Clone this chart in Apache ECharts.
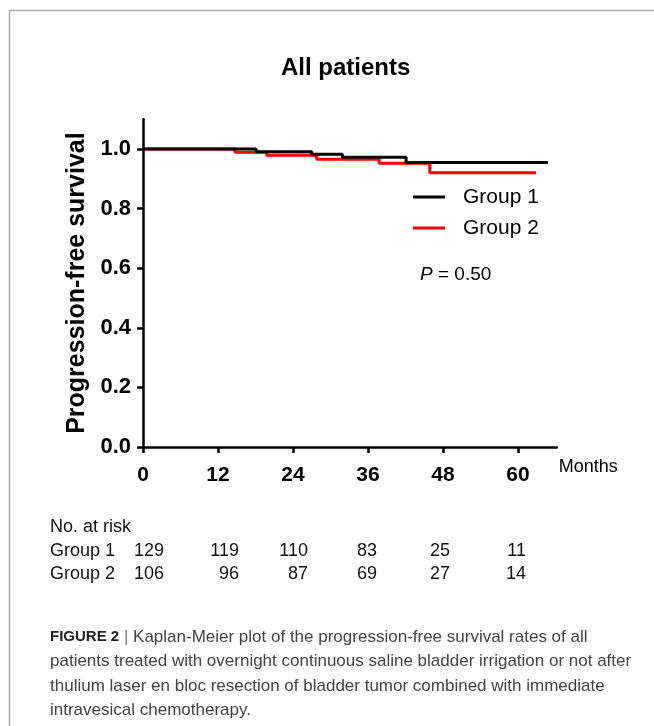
<!DOCTYPE html>
<html><head><meta charset="utf-8">
<script src="https://cdn.jsdelivr.net/npm/echarts@6/dist/echarts.min.js"></script>
<style>html,body{margin:0;padding:0;background:#fff}#c{width:654px;height:726px}</style>
</head><body><div id="c"></div>
<script>
// ---- data ----
const seriesNames = ['Group 1', 'Group 2'];
const group1Months = [0, 18.1, 27.0, 31.9, 42.1, 64.8];
const group1Survival = [1.0, 0.991, 0.982, 0.972, 0.955, 0.955];
const group2Months = [0, 14.7, 19.8, 27.8, 37.8, 45.9, 62.9];
const group2Survival = [1.0, 0.989, 0.979, 0.966, 0.952, 0.920, 0.920];
const xTicks = [0, 12, 24, 36, 48, 60];
const yTicks = [0, 0.2, 0.4, 0.6, 0.8, 1.0];
const riskGroup1 = [129, 119, 110, 83, 25, 11];
const riskGroup2 = [106, 96, 87, 69, 27, 14];
const pValue = '0.50';
const titleText = 'All patients';
const yName = 'Progression-free survival';
const xName = 'Months';
const captionLines = [
  'Kaplan-Meier plot of the progression-free survival rates of all',
  'patients treated with overnight continuous saline bladder irrigation or not after',
  'thulium laser en bloc resection of bladder tumor combined with immediate',
  'intravesical chemotherapy.'
];

// ---- layout ----
const FONT = '"Liberation Sans", Arial, sans-serif';
const riskRightX = [164, 239, 308, 377, 450, 526];
const pair = (xs, ys) => xs.map((x, i) => [x, ys[i]]);

const chart = echarts.init(document.getElementById('c'), null, {renderer: 'canvas'});

const graphics = [];
graphics.push({type: 'polyline', shape: {points: [[660, 10.5], [9.5, 10.5], [9.5, 730]]},
  style: {stroke: '#aaaaaa', lineWidth: 1.5, fill: null}, silent: true});
graphics.push({type: 'text', left: 420, top: 265,
  style: {text: '{i|P} = ' + pValue, rich: {i: {fontStyle: 'italic', fontSize: 19, fontFamily: FONT, fill: '#000'}},
    fontSize: 19, fontFamily: FONT, fill: '#000'}});
graphics.push({type: 'text', x: 50, y: 527, style: {text: 'No. at risk', fontSize: 18, fontFamily: FONT, fill: '#111', verticalAlign: 'middle'}});
[[seriesNames[0], riskGroup1, 551], [seriesNames[1], riskGroup2, 574]].forEach(([name, vals, y]) => {
  graphics.push({type: 'text', x: 50, y: y, style: {text: name, fontSize: 18, fontFamily: FONT, fill: '#111', verticalAlign: 'middle'}});
  vals.forEach((v, i) => {
    graphics.push({type: 'text', x: riskRightX[i], y: y, style: {text: String(v), fontSize: 18, fontFamily: FONT, fill: '#111', align: 'right', verticalAlign: 'middle'}});
  });
});
const CAP_FONT = FONT;
captionLines.forEach((line, i) => {
  const txt = i === 0 ? '{b|FIGURE 2} {s||} ' + line : line;
  graphics.push({type: 'text', x: 50, y: 637 + i * 24.5,
    style: {text: txt, fontSize: 17, fontFamily: CAP_FONT, fill: '#444', verticalAlign: 'middle',
      rich: {b: {fontWeight: 'bold', fontSize: 15, fontFamily: FONT, fill: '#222'},
             s: {fontSize: 17, fontFamily: CAP_FONT, fill: '#777'}}}});
});

chart.setOption({
  animation: false,
  backgroundColor: '#fff',
  title: {text: titleText, left: 281, top: 56, padding: 0,
    textStyle: {fontSize: 24, fontWeight: 'bold', fontFamily: FONT, color: '#000'}},
  legend: {data: seriesNames, orient: 'vertical', left: 413, top: 186, padding: 0, itemGap: 9,
    icon: 'rect', itemWidth: 32, itemHeight: 3,
    textStyle: {fontSize: 21, fontFamily: FONT, color: '#000', lineHeight: 22, padding: [0, 0, 0, 13]}},
  grid: {left: 143, right: 97.3, top: 119.2, bottom: 279, containLabel: false},
  xAxis: {type: 'value', min: 0, max: 66.2, interval: 12,
    name: xName, nameLocation: 'end', nameGap: 2,
    nameTextStyle: {fontSize: 18, fontFamily: FONT, color: '#000', align: 'left', verticalAlign: 'top', padding: [11, 0, 0, 0]},
    axisLine: {lineStyle: {color: '#000', width: 2.5}},
    axisTick: {length: 6, lineStyle: {color: '#000', width: 2.5}, customValues: xTicks},
    axisLabel: {customValues: xTicks, fontSize: 21, fontWeight: 'bold', fontFamily: FONT, color: '#000', margin: 18},
    splitLine: {show: false}},
  yAxis: {type: 'value', min: 0, max: 1.1, interval: 0.2,
    name: yName, nameLocation: 'middle', nameGap: 52, nameRotate: 90,
    nameTextStyle: {fontSize: 25, fontWeight: 'bold', fontFamily: FONT, color: '#000'},
    axisLine: {show: true, lineStyle: {color: '#000', width: 2.5}},
    axisTick: {show: true, length: 6, lineStyle: {color: '#000', width: 2.5}, customValues: yTicks},
    axisLabel: {customValues: yTicks, fontSize: 22, fontWeight: 'bold', fontFamily: FONT, color: '#000', margin: 12,
      formatter: v => v.toFixed(1)},
    splitLine: {show: false}},
  series: [
    {name: seriesNames[1], type: 'line', step: 'end', showSymbol: false, symbol: 'none',
      data: pair(group2Months, group2Survival), color: '#ff0000', lineStyle: {color: '#ff0000', width: 3}, z: 2},
    {name: seriesNames[0], type: 'line', step: 'end', showSymbol: false, symbol: 'none',
      data: pair(group1Months, group1Survival), color: '#000000', lineStyle: {color: '#000000', width: 3}, z: 3}
  ],
  graphic: graphics
});
</script></body></html>
